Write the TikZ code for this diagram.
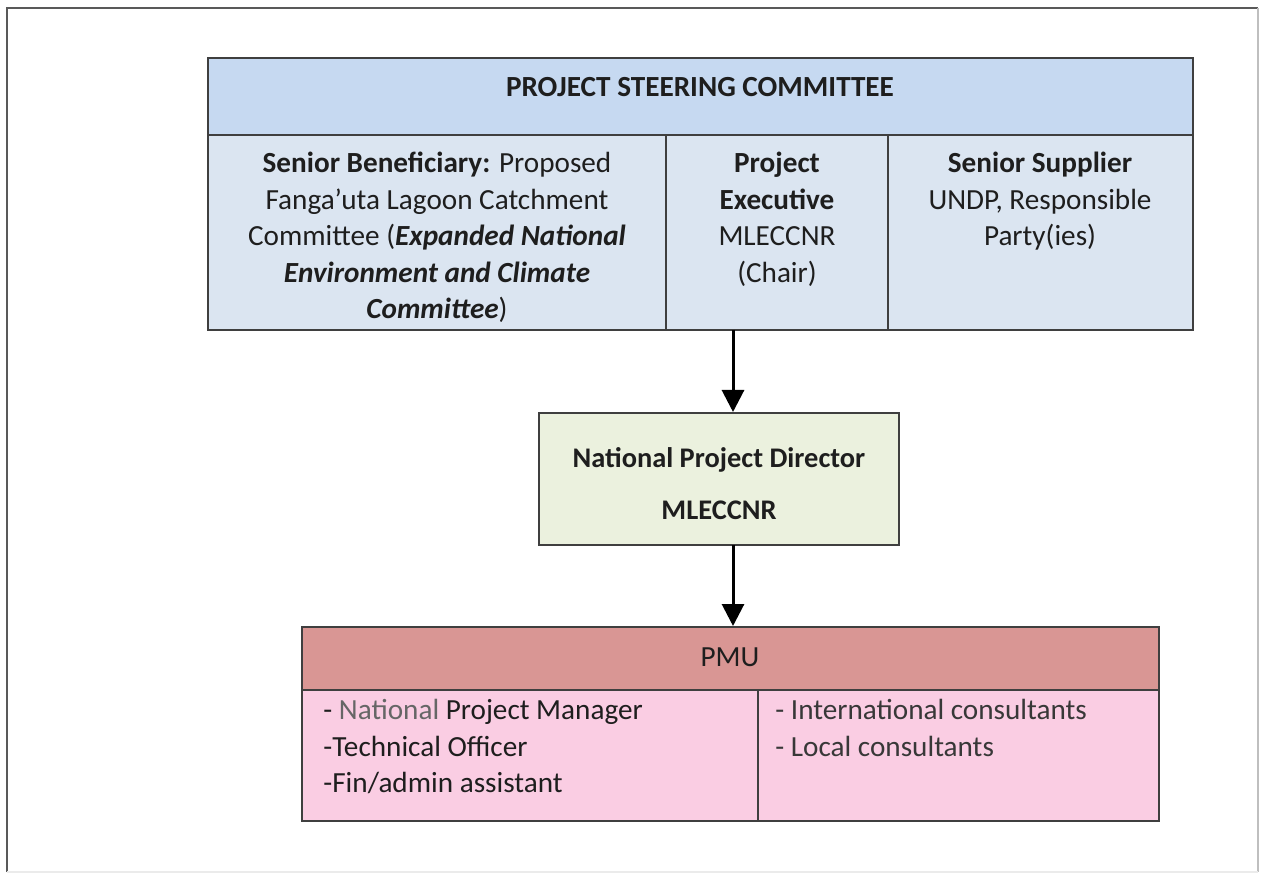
\documentclass[tikz,border=0pt]{standalone}
\usepackage{fontspec}
\setmainfont{Carlito}
\usetikzlibrary{arrows.meta,fit}
\definecolor{hdrblue}{HTML}{C6D9F1}
\definecolor{bodyblue}{HTML}{DBE5F1}
\definecolor{npdgreen}{HTML}{EBF1DE}
\definecolor{pmuhdr}{HTML}{D99694}
\definecolor{pmubody}{HTML}{FACDE3}
\definecolor{boxline}{HTML}{3F3F3F}
\definecolor{txt}{HTML}{1E1E1E}
\begin{document}
\begin{tikzpicture}[x=0.5pt,y=-0.5pt,
  box/.style={draw=boxline,line width=1pt,inner sep=0pt,rectangle},
  txtnode/.style={inner sep=0pt,text=txt,font=\fontsize{14.6}{18.25}\selectfont},
  conn/.style={line width=1.5pt,-{Triangle[width=11pt,length=11pt]}},
  frame/.style={line width=1.2pt}]
\useasboundingbox (0,0) rectangle (1262,876);
% outer frame
\draw[frame,draw=black!65] (7,872) -- (7,8) -- (1258,8);
\draw[frame,draw=black!25] (1258,8) -- (1258,872);
\draw[frame,draw=black!8] (7,872) -- (1258,872);
% steering committee
\node[box,fill=hdrblue,fit={(208,58) (1193,135)}] (psc) {};
\node[box,fill=bodyblue,fit={(208,135) (666,330)}] (sb) {};
\node[box,fill=bodyblue,fit={(666,135) (888,330)}] (pe) {};
\node[box,fill=bodyblue,fit={(888,135) (1193,330)}] (ss) {};
\node[txtnode,font=\fontsize{14.6}{18.25}\selectfont\bfseries] (psct) at (700,87) {PROJECT STEERING COMMITTEE};
\node[txtnode,anchor=north,align=center] (sbt) at (437,152)
  {\textbf{Senior Beneficiary:} Proposed\\ Fanga’uta Lagoon Catchment\\ Committee (\textbf{\textit{Expanded National}}\\ \textbf{\textit{Environment and Climate}}\\ \textbf{\textit{Committee}})};
\node[txtnode,anchor=north,align=center] (pet) at (777,152)
  {\textbf{Project}\\ \textbf{Executive}\\ MLECCNR\\ (Chair)};
\node[txtnode,anchor=north,align=center] (sst) at (1040,152)
  {\textbf{Senior Supplier}\\ UNDP, Responsible\\ Party(ies)};
% national project director
\node[box,fill=npdgreen,fit={(539,413) (899,545)}] (npd) {};
\node[txtnode,font=\fontsize{14.2}{26}\selectfont\bfseries,align=center] (npdt) at (719,484)
  {National Project Director\\ MLECCNR};
% PMU
\node[box,fill=pmuhdr,fit={(302,627) (1159,690)}] (pmu) {};
\node[box,fill=pmubody,fit={(302,690) (758,821)}] (pmul) {};
\node[box,fill=pmubody,fit={(758,690) (1159,821)}] (pmur) {};
\node[txtnode] (pmut) at (730,657) {PMU};
\node[txtnode,anchor=north west,align=left] (pmult) at (323,699)
  {- \textcolor{black!60}{National} Project Manager\\ -Technical Officer\\ -Fin/admin assistant};
\node[txtnode,anchor=north west,align=left,text=black!78] (pmurt) at (775,699)
  {- International consultants\\ - Local consultants};
% connectors
\coordinate (a1) at (733,330);
\coordinate (a2) at (733,545);
\draw[conn] (a1) -- (a1 |- npd.north);
\draw[conn] (a2) -- (a2 |- pmu.north);
\end{tikzpicture}
\end{document}
